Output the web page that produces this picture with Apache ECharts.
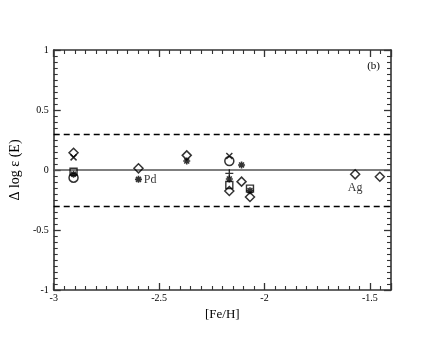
<!DOCTYPE html>
<html><head><meta charset="utf-8">
<script src="https://cdn.jsdelivr.net/npm/echarts@6/dist/echarts.min.js"></script>
<style>html,body{margin:0;padding:0;background:#fff}#c{width:440px;height:340px}</style>
</head><body><div id="c"></div>
<script>
const diamondX = [-2.906, -2.598, -2.369, -2.167, -2.109, -2.069, -1.570, -1.453];
const diamondY = [0.144, 0.014, 0.122, -0.175, -0.097, -0.225, -0.036, -0.056];
const crossX = [-2.906, -2.167];
const crossY = [0.105, 0.117];
const squareX = [-2.906, -2.167, -2.069];
const squareY = [-0.014, -0.125, -0.155];
const asteriskX = [-2.906, -2.598, -2.369, -2.167, -2.109, -2.069];
const asteriskY = [-0.035, -0.078, 0.075, -0.075, 0.042, -0.172];
const circleX = [-2.906, -2.167];
const circleY = [-0.064, 0.075];
const plusX = [-2.167];
const plusY = [-0.028];
const refLines = [0.3, 0, -0.3];
const pointLabels = {asterisk: {1: 'Pd'}, diamond: {6: 'Ag'}};
const panelLabel = '(b)';

const FONT = 'Liberation Serif';
function pts(xs, ys, labels, pos){
  return xs.map((x,i)=>{
    const d = {value:[x, ys[i]]};
    if (labels && labels[i]) d.label = {show:true, formatter:labels[i], position:pos, distance: pos==='right'?1:2, color:'#000', fontFamily:FONT, fontSize:12};
    return d;
  });
}
const symDiamond = 'path://M0,-5L5,0L0,5L-5,0Z';
const symCross = 'path://M-4,-4L4,4M-4,4L4,-4';
const symPlus = 'path://M0,-5L0,5M-5,0L5,0';
const symAst = 'path://M0,-5L0,5M-5,0L5,0M-3.5,-3.5L3.5,3.5M-3.5,3.5L3.5,-3.5';
function sc(name, data, symbol, size, bw, extra){
  return Object.assign({
    name, type:'scatter', data, symbol, symbolSize:size, symbolKeepAspect:true,
    itemStyle:{color:'rgba(0,0,0,0)', borderColor:'#000', borderWidth:bw||1.4},
    emphasis:{disabled:true}, z:5
  }, extra||{});
}
const axisCommon = {
  min:-3, max:-1.4, interval:0.5,
  axisLine:{show:true, onZero:false, lineStyle:{color:'#333', width:1.6}},
  axisTick:{show:true, inside:true, length:7, lineStyle:{color:'#333', width:1.3}},
  minorTick:{show:true, splitNumber:10, length:4, lineStyle:{color:'#333', width:1.1}},
  splitLine:{show:false}
};
const yCommon = {
  min:-1, max:1, interval:0.5,
  axisLine:{show:true, onZero:false, lineStyle:{color:'#333', width:1.6}},
  axisTick:{show:true, inside:true, length:7, lineStyle:{color:'#333', width:1.3}},
  minorTick:{show:true, splitNumber:10, length:4, lineStyle:{color:'#333', width:1.1}},
  splitLine:{show:false}
};
const chart = echarts.init(document.getElementById('c'), null, {renderer:'canvas'});
chart.setOption({
  animation:false,
  backgroundColor:'#fff',
  grid:{left:50, right:49, top:50, bottom:50},
  graphic:[{type:'text', right:60, top:61, style:{text:panelLabel, font:'11px "Liberation Serif"', fill:'#000'}}],
  xAxis:[
    Object.assign({type:'value', position:'bottom', name:'[Fe/H]', nameLocation:'middle', nameGap:18,
      nameTextStyle:{fontFamily:FONT, fontSize:13, color:'#000'},
      axisLabel:{fontFamily:FONT, fontSize:10, color:'#000', margin:3, showMaxLabel:false,
        formatter:v=>String(v)}}, axisCommon),
    Object.assign({type:'value', position:'top', axisLabel:{show:false}}, axisCommon)
  ],
  yAxis:[
    Object.assign({type:'value', position:'left', name:'Δ log ε (E)', nameLocation:'middle', nameGap:20,
      nameTextStyle:{fontFamily:FONT, fontSize:14, color:'#000'},
      axisLabel:{fontFamily:FONT, fontSize:10, color:'#000', margin:5}}, yCommon),
    Object.assign({type:'value', position:'right', axisLabel:{show:false}}, yCommon)
  ],
  series:[
    {type:'line', data:[], silent:true,
      markLine:{symbol:'none', silent:true, label:{show:false},
        data: refLines.map(v=>({yAxis:v, lineStyle: v===0 ? {type:'solid', color:'#555', width:1.6} : {type:[6,4], color:'#000', width:1.3}}))}},
    sc('diamond', pts(diamondX, diamondY, pointLabels.diamond, 'bottom'), symDiamond, 9, 1.5),
    sc('cross', pts(crossX, crossY), symCross, 6, 1.5),
    sc('square', pts(squareX, squareY), 'rect', 7, 1.4),
    sc('asterisk', pts(asteriskX, asteriskY, pointLabels.asterisk, 'right'), symAst, 7, 1.6),
    sc('circle', pts(circleX, circleY), 'circle', 9, 1.5),
    sc('plus', pts(plusX, plusY), symPlus, 8, 1.4)
  ]
});
</script></body></html>
